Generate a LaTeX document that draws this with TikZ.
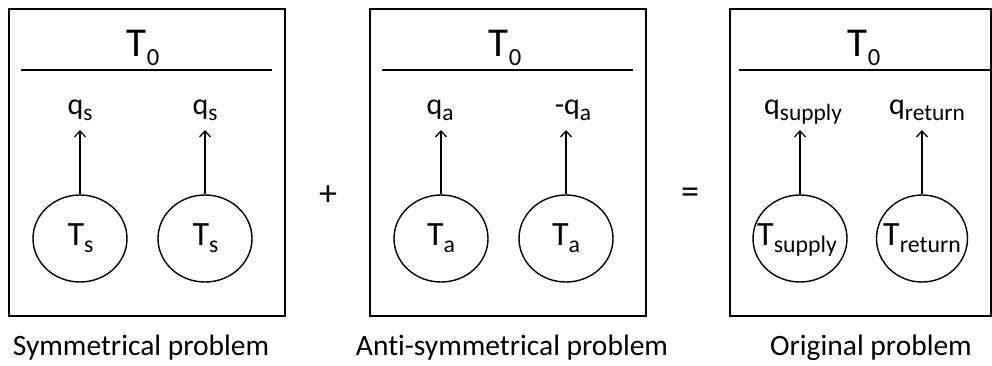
\documentclass[tikz,border=0pt]{standalone}
\usepackage{fontspec}
\setmainfont{Carlito}[Ligatures=NoCommon]
\usetikzlibrary{arrows.meta,shapes.geometric}
\newcommand\subs[2]{\raisebox{-0.23em}{\scalebox{#1}{#2}}}
\begin{document}
\begin{tikzpicture}[x=1pt,y=-1pt,
 panel/.style={draw, line width=1.9pt, inner sep=0pt, anchor=north west, minimum height=307pt},
 sepline/.style={line width=1.7pt},
 well/.style={draw, ellipse, line width=1.4pt, minimum width=94pt, minimum height=87pt, inner sep=0pt},
 flux/.style={line width=1.3pt, -{Straight Barb[length=6pt,width=11pt]}},
 ttop/.style={anchor=base, inner sep=0pt, font=\fontsize{41}{41}\selectfont},
 qlab/.style={anchor=base, inner sep=0pt, font=\fontsize{30}{30}\selectfont},
 twell/.style={anchor=base, inner sep=0pt, font=\fontsize{34}{34}\selectfont},
 caption/.style={anchor=base, inner sep=0pt, font=\fontsize{29.5}{30}\selectfont},
 op/.style={inner sep=0pt, font=\fontsize{36}{36}\selectfont}]
\useasboundingbox (0,0) rectangle (992,365);

% panels
\node[panel, minimum width=276pt] (p1) at (8,8) {};
\node[panel, minimum width=276pt] (p2) at (369,8) {};
\node[panel, minimum width=261pt] (p3) at (729,8) {};

% separator lines
\coordinate (l1a) at (21,70); \coordinate (l1b) at (272,70);
\coordinate (l2a) at (382,70); \coordinate (l2b) at (633,70);
\coordinate (l3a) at (739,70); \coordinate (l3b) at (990,70);
\draw[sepline] (l1a) -- (l1b);
\draw[sepline] (l2a) -- (l2b);
\draw[sepline] (l3a) -- (l3b);

% T0 labels
\node[ttop] (t01) at (143,56) {T\subs{0.6}{0}};
\node[ttop] (t02) at (505,56) {T\subs{0.6}{0}};
\node[ttop] (t03) at (864,56) {T\subs{0.6}{0}};

% circles
\node[well] (c1) at (80,238.5) {};
\node[well] (c2) at (205,238.5) {};
\node[well] (c3) at (441,238.5) {};
\node[well] (c4) at (566,238.5) {};
\node[well] (c5) at (800,238.5) {};
\node[well, minimum width=91pt] (c6) at (922,238.5) {};

% texts in circles
\node[twell] (w1) at (80.5,245) {T\subs{0.7}{s}};
\node[twell] (w2) at (205.5,245) {T\subs{0.7}{s}};
\node[twell] (w3) at (441,245) {T\subs{0.7}{a}};
\node[twell] (w4) at (566,245) {T\subs{0.7}{a}};
\node[twell] (w5) at (797,245) {T\subs{0.7}{supply}};
\node[twell] (w6) at (922,245) {T\subs{0.7}{return}};

% flux labels
\node[qlab] (q1) at (80,114) {q\subs{0.78}{s}};
\node[qlab] (q2) at (205,114) {q\subs{0.78}{s}};
\node[qlab] (q3) at (440,114) {q\subs{0.78}{a}};
\node[qlab] (q4) at (573,114) {-q\subs{0.78}{a}};
\node[qlab] (q5) at (803,114) {q\subs{0.78}{supply}};
\node[qlab] (q6) at (927,114) {q\subs{0.78}{return}};

% arrow tip level
\coordinate (tip) at (0,130);

% arrows
\draw[flux] (c1.north) -- (c1.north |- tip);
\draw[flux] (c2.north) -- (c2.north |- tip);
\draw[flux] (c3.north) -- (c3.north |- tip);
\draw[flux] (c4.north) -- (c4.north |- tip);
\draw[flux] (c5.north) -- (c5.north |- tip);
\draw[flux] (c6.north) -- (c6.north |- tip);

% operators
\node[op] (plus) at (328,196) {+};
\node[op] (eq) at (690,196) {=};

% captions
\node[caption] (cap1) at (141,355) {Symmetrical problem};
\node[caption] (cap2) at (512,355) {Anti-symmetrical problem};
\node[caption] (cap3) at (871,355) {Original problem};
\end{tikzpicture}
\end{document}
